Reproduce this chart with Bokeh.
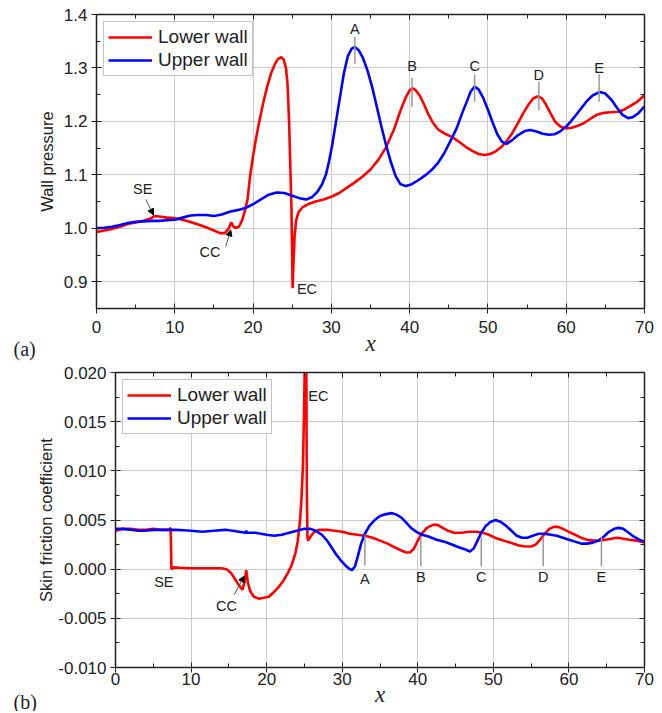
from bokeh.plotting import figure
from bokeh.models import (Legend, LegendItem, LinearAxis, FixedTicker, NumeralTickFormatter,
                          CustomJSTickFormatter, Title, Arrow, NormalHead, Range1d, ColumnDataSource)
from bokeh.core.properties import value
from bokeh.embed import file_html
from bokeh.resources import INLINE

FONT = "Liberation Sans"
SERIF = "Liberation Serif"
RED = "#ff0000"
BLUE = "#0000ff"

# ---------------- (a) wall pressure ----------------
p_lower_x = [0, 1, 2, 3, 4, 5, 6, 7, 7.4, 8, 9, 10, 11, 12, 13, 14, 15, 15.8, 16.4, 16.9, 17.2, 17.5,
             17.8, 18.2, 18.6, 19.0, 19.3, 19.6, 20.0, 20.4, 20.8, 21.3, 21.8, 22.3, 22.8, 23.2, 23.6,
             23.9, 24.2, 24.4, 24.6, 24.75, 24.9, 25.0, 25.05, 25.15, 25.3, 25.5, 25.8, 26.3, 27.0,
             28.0, 29.0, 30.0, 31.0, 32.0, 33.0, 34.0, 35.0, 36.0, 37.0, 38.0, 38.8, 39.5, 40.0, 40.4,
             40.8, 41.3, 41.8, 42.4, 43.0, 43.7, 44.5, 45.4, 46.3, 47.2, 48.0, 48.8, 49.6, 50.3, 51.0,
             51.7, 52.4, 53.1, 53.8, 54.5, 55.2, 55.8, 56.4, 56.9, 57.4, 58.0, 58.6, 59.3, 60.0, 60.7,
             61.5, 62.3, 63.2, 64.0, 64.8, 65.7, 66.6, 67.4, 68.2, 69.0, 70.0]
p_lower_y = [0.993, 0.996, 0.999, 1.003, 1.008, 1.011, 1.014, 1.019, 1.023, 1.022, 1.020, 1.019, 1.016,
             1.012, 1.007, 1.002, 0.996, 0.991, 0.991, 1.000, 1.011, 1.003, 1.001, 1.003, 1.015, 1.035,
             1.055, 1.095, 1.135, 1.170, 1.200, 1.235, 1.265, 1.290, 1.308, 1.317, 1.320, 1.316, 1.300,
             1.270, 1.200, 1.120, 1.040, 0.950, 0.888, 0.930, 0.985, 1.015, 1.030, 1.039, 1.045, 1.050,
             1.054, 1.059, 1.066, 1.076, 1.086, 1.097, 1.110, 1.128, 1.152, 1.185, 1.219, 1.245, 1.258,
             1.262, 1.258, 1.248, 1.233, 1.213, 1.197, 1.184, 1.177, 1.171, 1.162, 1.152, 1.145, 1.139,
             1.137, 1.139, 1.144, 1.152, 1.163, 1.178, 1.196, 1.215, 1.232, 1.243, 1.247, 1.243, 1.232,
             1.215, 1.199, 1.190, 1.187, 1.188, 1.192, 1.197, 1.206, 1.213, 1.216, 1.217, 1.218, 1.222,
             1.229, 1.236, 1.249]

p_upper_x = [0, 1, 2, 3, 4, 5, 6, 7, 8, 9, 10, 11, 12, 13, 14, 15, 16, 17, 18, 19, 20, 21, 22, 23, 24,
             25, 26, 26.8, 27.5, 28.2, 28.8, 29.3, 29.7, 30.1, 30.6, 31.1, 31.6, 32.1, 32.6, 33.0, 33.5,
             34.0, 34.6, 35.2, 35.8, 36.4, 37.0, 37.6, 38.2, 38.8, 39.5, 40.2, 41.0, 41.9, 42.8, 43.6,
             44.4, 45.2, 46.0, 46.7, 47.3, 47.8, 48.3, 48.8, 49.4, 50.0, 50.6, 51.2, 51.8, 52.4, 53.1,
             53.9, 54.7, 55.4, 56.2, 57.0, 57.8, 58.5, 59.2, 59.9, 60.6, 61.3, 62.0, 62.7, 63.4, 64.3,
             65.0, 65.8, 66.5, 67.2, 67.9, 68.5, 69.2, 70.0]
p_upper_y = [1.000, 1.001, 1.003, 1.006, 1.010, 1.012, 1.013, 1.014, 1.014, 1.015, 1.016, 1.020, 1.024,
             1.025, 1.025, 1.023, 1.026, 1.031, 1.034, 1.038, 1.045, 1.054, 1.063, 1.067, 1.066, 1.061,
             1.056, 1.054, 1.058, 1.068, 1.082, 1.100, 1.125, 1.155, 1.200, 1.245, 1.290, 1.322, 1.336,
             1.339, 1.333, 1.320, 1.296, 1.265, 1.228, 1.190, 1.155, 1.124, 1.098, 1.083, 1.079, 1.082,
             1.089, 1.098, 1.109, 1.122, 1.140, 1.163, 1.187, 1.215, 1.237, 1.256, 1.265, 1.260, 1.244,
             1.222, 1.198, 1.176, 1.162, 1.158, 1.165, 1.175, 1.182, 1.184, 1.181, 1.177, 1.175, 1.176,
             1.181, 1.189, 1.200, 1.213, 1.226, 1.239, 1.249, 1.255, 1.252, 1.240, 1.225, 1.212, 1.206,
             1.208, 1.215, 1.228]

a_mark_text = ["A", "B", "C", "D", "E"]
a_mark_x = [33.0, 40.3, 48.3, 56.5, 64.2]
a_mark_text_y = [1.372, 1.304, 1.304, 1.287, 1.300]
a_mark_top = [1.358, 1.281, 1.288, 1.274, 1.288]
a_mark_bot = [1.308, 1.227, 1.237, 1.221, 1.237]
a_note_text = ["SE", "CC"]
a_note_x = [5.9, 14.5]
a_note_y = [1.073, 0.955]
a_arrow_x0 = [6.3, 16.5]
a_arrow_y0 = [1.054, 0.966]
a_arrow_x1 = [7.28, 17.15]
a_arrow_y1 = [1.025, 0.997]
a_ec = (25.6, 0.886)

# ---------------- (b) skin friction ----------------
f_lower_x = [0, 1, 2, 3, 4, 5, 6, 7.1, 7.3, 7.4, 7.7, 8.5, 10, 11, 12, 13, 14, 14.7, 15.3, 15.8, 16.3,
             16.8, 17.1, 17.3, 17.5, 17.8, 18.3, 19.0, 19.6, 20.3, 21.0, 21.6, 22.2, 22.8, 23.3, 23.8,
             24.1, 24.4, 24.6, 24.8, 24.95, 25.05, 25.15, 25.25, 25.32, 25.4, 25.5, 25.8, 26.3, 27.0,
             28.0, 29.0, 30.0, 31.0, 32.0, 33.0, 34.0, 35.0, 36.0, 37.0, 37.8, 38.5, 39.0, 39.5, 40.0,
             40.5, 41.2, 42.0, 42.6, 43.3, 44.0, 44.8, 45.8, 46.8, 47.8, 48.6, 49.4, 50.2, 51.0, 51.8,
             52.6, 53.4, 54.2, 55.0, 55.6, 56.2, 56.8, 57.4, 58.0, 58.6, 59.2, 60.0, 60.8, 61.6, 62.4,
             63.2, 64.0, 64.8, 65.6, 66.4, 67.2, 68.0, 69.0, 70.0]
f_lower_y = [0.0039, 0.0041, 0.0041, 0.0040, 0.0040, 0.0041, 0.0040, 0.0040, 0.0042, 0.0000, 0.00018,
             0.00015, 0.0001, 0.0001, 0.0001, 0.0001, 0.0001, 0.0000, -0.0004, -0.0010, -0.0016,
             -0.0021, -0.0012, -0.0001, -0.0013, -0.0022, -0.0028, -0.0030, -0.0029, -0.0028, -0.0023,
             -0.0018, -0.0012, -0.0004, 0.0004, 0.0016, 0.0028, 0.0048, 0.0070, 0.0105, 0.0160, 0.0210,
             0.0260, 0.0200, 0.0080, 0.0032, 0.0029, 0.0033, 0.0038, 0.0040, 0.0040, 0.0039, 0.0038,
             0.0036, 0.0035, 0.0034, 0.0032, 0.0029, 0.0026, 0.0022, 0.0019, 0.0017, 0.0017, 0.0021,
             0.0029, 0.0036, 0.0042, 0.0045, 0.0045, 0.0042, 0.0039, 0.0037, 0.0037, 0.0038, 0.0038,
             0.0037, 0.0035, 0.0032, 0.0030, 0.0028, 0.0026, 0.0024, 0.0023, 0.0023, 0.0025, 0.0030,
             0.0036, 0.0041, 0.0043, 0.0043, 0.0041, 0.0038, 0.0035, 0.0032, 0.0030, 0.0029, 0.0029,
             0.0030, 0.0031, 0.0032, 0.0031, 0.0030, 0.0029, 0.0027]

f_upper_x = [0, 1, 2, 3, 3.8, 5, 6, 7, 8, 9, 10, 11.5, 13, 14.5, 15.5, 17.2, 17.3, 17.4, 18.5, 20, 21,
             22, 23, 24, 25, 25.8, 26.5, 27.3, 28.0, 28.6, 29.2, 29.8, 30.4, 31.0, 31.3, 31.7, 32.1,
             32.5, 33.0, 33.6, 34.3, 35.0, 35.8, 36.6, 37.3, 37.9, 38.5, 39.1, 39.8, 40.6, 41.5, 42.5,
             43.5, 44.5, 45.5, 46.3, 46.9, 47.4, 47.9, 48.4, 49.0, 49.6, 50.3, 51.0, 51.7, 52.4, 53.1,
             53.8, 54.5, 55.2, 56.0, 56.8, 57.6, 58.4, 59.2, 60.0, 60.8, 61.6, 62.4, 63.2, 63.9, 64.6,
             65.3, 66.0, 66.6, 67.2, 67.9, 68.6, 69.3, 70.0]
f_upper_y = [0.0041, 0.0041, 0.0040, 0.0039, 0.0039, 0.0040, 0.0040, 0.0040, 0.0040, 0.00395, 0.0039,
             0.0038, 0.0039, 0.0040, 0.0039, 0.0037, 0.0039, 0.0037, 0.0037, 0.0035, 0.0034, 0.0035,
             0.0037, 0.0039, 0.0041, 0.0041, 0.0039, 0.0035, 0.0029, 0.0022, 0.0015, 0.0009, 0.0004,
             0.0000, -0.0001, 0.0003, 0.0014, 0.0026, 0.0036, 0.0044, 0.0050, 0.0054, 0.0056, 0.0057,
             0.0055, 0.0052, 0.0047, 0.0042, 0.0038, 0.0035, 0.0033, 0.0030, 0.0028, 0.0025, 0.0022,
             0.0020, 0.0018, 0.0021, 0.0029, 0.0037, 0.0044, 0.0048, 0.0050, 0.0048, 0.0044, 0.0039,
             0.0034, 0.0032, 0.0032, 0.0034, 0.0036, 0.0036, 0.0035, 0.0034, 0.0032, 0.0030, 0.0028,
             0.0026, 0.0026, 0.0027, 0.0029, 0.0033, 0.0038, 0.0041, 0.0042, 0.0041, 0.0037, 0.0033,
             0.0030, 0.0028]

b_mark_text = ["A", "B", "C", "D", "E"]
b_mark_x = [33.0, 40.4, 48.4, 56.6, 64.3]
b_mark_text_y = [-0.00095, -0.0008, -0.0008, -0.0008, -0.0008]
b_mark_top = [0.0035, 0.0033, 0.0033, 0.0033, 0.0033]
b_mark_bot = [0.0004, 0.0003, 0.0003, 0.0003, 0.0003]
b_note_text = ["SE", "CC"]
b_note_x = [6.4, 14.7]
b_note_y = [-0.00135, -0.0037]
b_arrow_x0 = [15.7]
b_arrow_y0 = [-0.0026]
b_arrow_x1 = [17.05]
b_arrow_y1 = [-0.0007]
b_ec = (25.5, 0.0176)

x_major = [0, 10, 20, 30, 40, 50, 60, 70]
x_minor = [5, 15, 25, 35, 45, 55, 65]
a_y_major = [0.9, 1.0, 1.1, 1.2, 1.3, 1.4]
a_y_minor = [0.85, 0.95, 1.05, 1.15, 1.25, 1.35]
b_y_major = [-0.010, -0.005, 0.000, 0.005, 0.010, 0.015, 0.020]
b_y_minor = [-0.0075, -0.0025, 0.0025, 0.0075, 0.0125, 0.0175]


def make_fig(fw, fh, ml, mt, mb, yr, ymaj, ymin, yfmt, ylabel, ylab_standoff, xstandoff, xl_standoff):
    p = figure(frame_width=fw, frame_height=fh, min_border_left=ml, min_border_right=10,
               min_border_top=mt, min_border_bottom=mb, x_range=Range1d(0, 70),
               y_range=Range1d(*yr), output_backend="svg", toolbar_location=None)
    p.outline_line_color = None
    p.background_fill_color = "white"
    p.border_fill_color = "white"
    xt = FixedTicker(ticks=x_major, minor_ticks=x_minor)
    yt = FixedTicker(ticks=ymaj, minor_ticks=ymin)
    p.xaxis.ticker = xt
    p.yaxis.ticker = yt
    p.xaxis.formatter = NumeralTickFormatter(format="0")
    p.yaxis.formatter = NumeralTickFormatter(format=yfmt)
    for ax in (p.xaxis[0], p.yaxis[0]):
        ax.axis_line_width = 1.5
        ax.axis_line_color = "#222222"
        ax.major_tick_line_color = "#222222"
        ax.minor_tick_line_color = "#222222"
        ax.major_tick_in = 5
        ax.major_tick_out = 5
        ax.minor_tick_in = 4
        ax.minor_tick_out = 0
        ax.major_label_text_font = FONT
        ax.major_label_text_font_size = "17px"
        ax.major_label_text_color = "#222222"
    p.xaxis.major_label_standoff = xstandoff
    p.yaxis.major_label_standoff = 4
    p.yaxis.axis_label = ylabel
    p.yaxis.axis_label_text_font = FONT
    p.yaxis.axis_label_text_font_size = "16.5px"
    p.yaxis.axis_label_text_font_style = "normal"
    p.yaxis.axis_label_text_color = "#222222"
    p.yaxis.axis_label_standoff = ylab_standoff
    p.xaxis.axis_label = "x"
    p.xaxis.axis_label_text_font = SERIF
    p.xaxis.axis_label_text_font_style = "italic"
    p.xaxis.axis_label_text_font_size = "23px"
    p.xaxis.axis_label_text_color = "#222222"
    p.xaxis.axis_label_standoff = xl_standoff
    for place, tk in (("above", xt), ("right", yt)):
        ax = LinearAxis(ticker=tk, formatter=CustomJSTickFormatter(code="return ''"),
                        major_label_standoff=0,
                        major_tick_in=5, major_tick_out=0, minor_tick_in=4, minor_tick_out=0,
                        axis_line_width=1.5, axis_line_color="#222222",
                        major_tick_line_color="#222222", minor_tick_line_color="#222222")
        p.add_layout(ax, place)
    p.xgrid.ticker = xt
    p.ygrid.ticker = yt
    p.grid.grid_line_color = "#cccccc"
    p.grid.grid_line_width = 1
    return p


def add_legend(p, r1, r2):
    leg = Legend(items=[LegendItem(label="Lower wall", renderers=[r1]),
                        LegendItem(label="Upper wall", renderers=[r2])],
                 location="top_left", label_text_font=FONT, label_text_font_size="19px",
                 label_text_color="#222222", glyph_width=44, glyph_height=22, label_height=22,
                 label_standoff=6, padding=4, spacing=1, border_line_color="#888888",
                 border_line_width=1, background_fill_alpha=1.0, margin=7)
    p.add_layout(leg)


def annotate(p, mx, mtop, mbot, mty, mtext, nx, ny, ntext, ax0, ay0, ax1, ay1, ec, tag, tag_off,
             tag_standoff):
    p.segment(x0=mx, y0=mtop, x1=mx, y1=mbot, line_color="#999999", line_width=1.5)
    src = ColumnDataSource(dict(x=mx + nx, y=mty + ny, t=mtext + ntext))
    p.text(x="x", y="y", text="t", source=src, text_font=value(FONT), text_font_size="14.5px",
           text_align="center", text_baseline="middle", text_color="#222222")
    p.text(x=[ec[0]], y=[ec[1]], text=["EC"], text_font=value(FONT), text_font_size="14.5px",
           text_align="left", text_baseline="middle", text_color="#222222")
    for x0, y0, x1, y1 in zip(ax0, ay0, ax1, ay1):
        p.add_layout(Arrow(end=NormalHead(size=6, fill_color="black", line_color="black"),
                           x_start=x0, y_start=y0, x_end=x1, y_end=y1,
                           line_color="#555555", line_width=1))
    p.add_layout(Title(text=tag, align="left", vertical_align="top", offset=tag_off,
                       standoff=tag_standoff, text_font=SERIF, text_font_size="20px",
                       text_font_style="normal", text_color="#222222"), "below")


# ---- figure (a): canvas 0..362
pa = make_fig(548, 294, 96, 14, 54, (0.85, 1.4), a_y_major, a_y_minor, "0.0", "Wall pressure",
              5, 7, -5)
ra1 = pa.line(p_lower_x, p_lower_y, line_color=RED, line_width=2.6)
ra2 = pa.line(p_upper_x, p_upper_y, line_color=BLUE, line_width=2.6)
add_legend(pa, ra1, ra2)
annotate(pa, a_mark_x, a_mark_top, a_mark_bot, a_mark_text_y, a_mark_text,
         a_note_x, a_note_y, a_note_text, a_arrow_x0, a_arrow_y0, a_arrow_x1, a_arrow_y1, a_ec,
         "(a)", -83, -42)

# ---- figure (b): canvas 362..711
pb = make_fig(529, 295, 115, 10, 44, (-0.010, 0.020), b_y_major, b_y_minor, "0.000",
              "Skin friction coefficient", 0, 0, -6)
rb1 = pb.line(f_lower_x, f_lower_y, line_color=RED, line_width=2.6)
rb2 = pb.line(f_upper_x, f_upper_y, line_color=BLUE, line_width=2.6)
add_legend(pb, rb1, rb2)
annotate(pb, b_mark_x, b_mark_top, b_mark_bot, b_mark_text_y, b_mark_text,
         b_note_x, b_note_y, b_note_text, b_arrow_x0, b_arrow_y0, b_arrow_x1, b_arrow_y1, b_ec,
         "(b)", -102, -37)

open("out.html", "w").write(file_html([pa, pb], INLINE))
